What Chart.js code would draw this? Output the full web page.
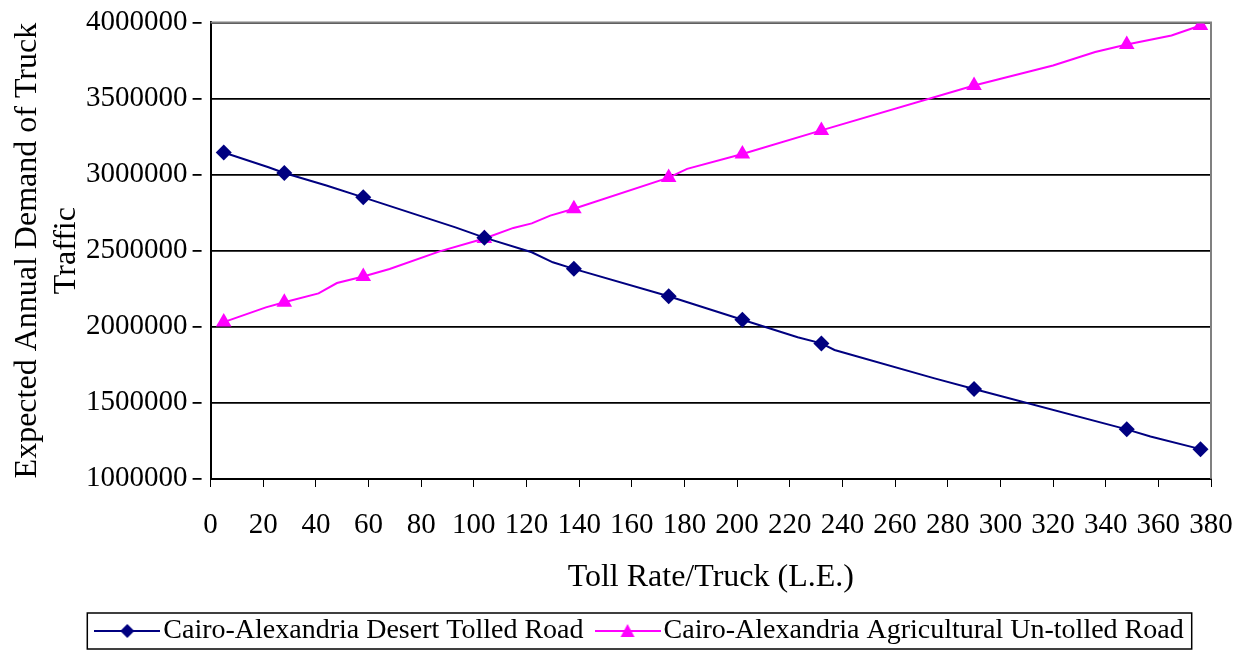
<!DOCTYPE html>
<html>
<head>
<meta charset="utf-8">
<script src="https://cdn.jsdelivr.net/npm/chart.js@4.4.0/dist/chart.umd.min.js"></script>
<style>
  html,body{margin:0;padding:0;background:#fff}
  #wrap{width:1250px;height:650px}
</style>
</head>
<body>
<div id="wrap"><canvas id="c" width="1250" height="650"></canvas></div>
<script>
// toll rates (L.E.) where the markers sit
const tollRates = [5, 28, 58, 104, 138, 174, 202, 232, 290, 348, 376];
const desertDemand = [3145000, 3010000, 2850000, 2585000, 2380000, 2200000, 2045000, 1890000, 1590000, 1325000, 1195000];
const agriDemand   = [2030000, 2160000, 2330000, 2580000, 2775000, 2980000, 3135000, 3290000, 3585000, 3855000, 3980000];

// extra line vertices (no marker)
const desertKinkX = [22, 44, 93, 122, 130, 223, 237, 275, 357];
const desertKinkY = [3048000, 2928000, 2653000, 2489000, 2423000, 1930000, 1847000, 1660000, 1278000];
const agriKinkX = [21, 41, 48, 68, 87, 115, 122, 129, 181, 320, 336, 365];
const agriKinkY = [2127000, 2219000, 2287000, 2379000, 2495000, 2649000, 2679000, 2730000, 3037000, 3717000, 3805000, 3914000];

const yTicks = [1000000, 1500000, 2000000, 2500000, 3000000, 3500000, 4000000];

const navy = '#000080', magenta = '#FF00FF';
const serif = "'Liberation Serif', 'Times New Roman', serif";

function pts(xs, ys){ return xs.map((x,i)=>({x, y:ys[i]})); }
function linePts(mx, my, kx, ky){ return pts(mx,my).concat(pts(kx,ky)).sort((a,b)=>a.x-b.x); }

// legend sample: line with the marker in the middle (wider than the box so it sits close to the text)
function legendIcon(color, shape){
  const cv = document.createElement('canvas'); cv.width = 66; cv.height = 16;
  const g = cv.getContext('2d');
  g.strokeStyle = color; g.lineWidth = 2;
  g.beginPath(); g.moveTo(0,8); g.lineTo(66,8); g.stroke();
  g.fillStyle = color; g.beginPath();
  if(shape==='diamond'){ g.moveTo(33,1); g.lineTo(40,8); g.lineTo(33,15); g.lineTo(26,8); }
  else { g.moveTo(33,1); g.lineTo(40,14); g.lineTo(26,14); }
  g.closePath(); g.fill();
  return cv;
}

const framePlugin = {
  id:'frame',
  afterDraw(chart){
    const {ctx, chartArea:a} = chart;
    ctx.save();
    ctx.strokeStyle = '#808080'; ctx.lineWidth = 2;
    ctx.beginPath(); ctx.moveTo(a.left, a.top); ctx.lineTo(a.right, a.top); ctx.lineTo(a.right, a.bottom); ctx.stroke();
    // legend box
    const boxes = chart.legend.legendHitBoxes;
    if(boxes && boxes.length){
      const l = Math.min(...boxes.map(b=>b.left)) - 18;
      const r = Math.max(...boxes.map(b=>b.left+b.width)) + 8;
      const cy = boxes[0].top + boxes[0].height/2;
      ctx.strokeStyle = '#000'; ctx.lineWidth = 1.5;
      ctx.strokeRect(l, cy-18, r-l, 36);
    }
    ctx.restore();
  }
};

new Chart(document.getElementById('c'), {
  type:'line',
  data:{
    datasets:[
      {label:'Cairo-Alexandria Desert Tolled Road', data:pts(tollRates, desertDemand), showLine:false,
       borderColor:navy, backgroundColor:navy, pointStyle:'rectRot', pointRadius:8, pointBorderWidth:0, order:0},
      {label:'Cairo-Alexandria Agricultural Un-tolled Road', data:pts(tollRates, agriDemand), showLine:false,
       borderColor:magenta, backgroundColor:magenta, pointStyle:'triangle', pointRadius:9, pointBorderWidth:0, order:0},
      {label:'desert-line', data:linePts(tollRates, desertDemand, desertKinkX, desertKinkY),
       borderColor:navy, borderWidth:2, pointRadius:0, tension:0, order:1},
      {label:'agri-line', data:linePts(tollRates, agriDemand, agriKinkX, agriKinkY),
       borderColor:magenta, borderWidth:2, pointRadius:0, tension:0, order:1}
    ]
  },
  options:{
    responsive:false, animation:false,
    layout:{padding:{left:78, right:39, top:8, bottom:-5}},
    scales:{
      x:{type:'linear', min:0, max:380,
         ticks:{stepSize:20, color:'#000', font:{family:serif, size:29}, padding:17, maxRotation:0},
         // long tick slot, only the first 7px drawn below the axis
         grid:{drawOnChartArea:false, color:'#000', tickLength:12, lineWidth:1, tickBorderDash:[7, 60]},
         border:{color:'#000', width:2},
         title:{display:true, text:'Toll Rate/Truck (L.E.)', color:'#000', font:{family:serif, size:32}, padding:{top:-1, bottom:-2}}},
      y:{min:1000000, max:4000000,
         afterBuildTicks(axis){ axis.ticks = yTicks.map(v=>({value:v})); },
         ticks:{color:'#000', font:{family:serif, size:29}, padding:5, callback:v=>String(v)},
         // long tick slot, only the first 9px drawn next to the axis
         grid:{color:'#000', lineWidth:1.8, tickLength:18, tickBorderDash:[9, 60]},
         border:{color:'#000', width:2},
         title:{display:true, text:['Expected Annual Demand of Truck','Traffic'], color:'#000', font:{family:serif, size:32, lineHeight:1.22}, padding:{top:-70, bottom:-5}}}
    },
    plugins:{
      tooltip:{enabled:false},
      legend:{position:'bottom',
        labels:{color:'#000', font:{family:serif, size:28}, usePointStyle:true, pointStyleWidth:44, boxHeight:16, padding:22,
          generateLabels(chart){
            return [
              {text:'Cairo-Alexandria Desert Tolled Road', datasetIndex:0, pointStyle:legendIcon(navy,'diamond'), fontColor:'#000', lineWidth:0, strokeStyle:'transparent', fillStyle:navy},
              {text:'Cairo-Alexandria Agricultural Un-tolled Road', datasetIndex:1, pointStyle:legendIcon(magenta,'triangle'), fontColor:'#000', lineWidth:0, strokeStyle:'transparent', fillStyle:magenta}
            ];
          }}}
    }
  },
  plugins:[framePlugin]
});
</script>
</body>
</html>
